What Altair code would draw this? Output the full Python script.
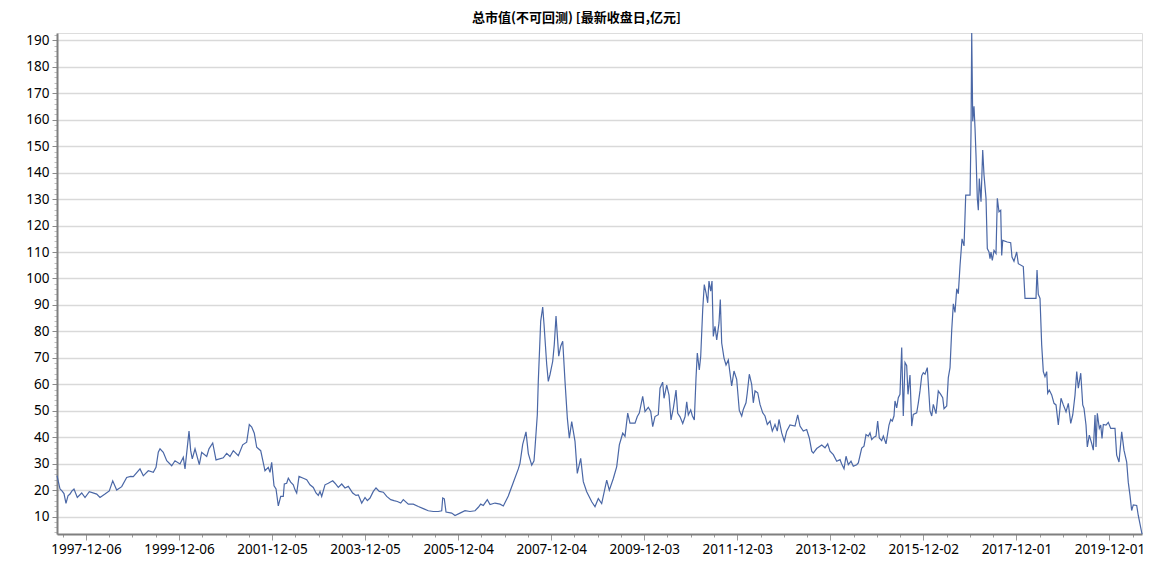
import json
import altair as alt
import pandas as pd

# time as decimal years, values in 亿元
year_frac = [
    1997.307, 1997.372, 1997.414, 1997.457, 1997.500, 1997.543, 1997.586, 1997.629, 1997.672, 1997.743,
    1997.838, 1997.909, 1998.001, 1998.160, 1998.231, 1998.338, 1998.430, 1998.504, 1998.589, 1998.697,
    1998.804, 1998.890, 1998.946, 1999.090, 1999.161, 1999.268, 1999.376, 1999.434, 1999.483, 1999.520,
    1999.590, 1999.664, 1999.771, 1999.842, 1999.949, 2000.020, 2000.057, 2000.143, 2000.179, 2000.213,
    2000.272, 2000.364, 2000.415, 2000.523, 2000.572, 2000.652, 2000.723, 2000.879, 2000.952, 2001.023,
    2001.094, 2001.202, 2001.296, 2001.382, 2001.438, 2001.490, 2001.545, 2001.597, 2001.683, 2001.775,
    2001.846, 2001.883, 2001.919, 2001.969, 2002.012, 2002.061, 2002.113, 2002.168, 2002.190, 2002.241,
    2002.276, 2002.327, 2002.383, 2002.420, 2002.456, 2002.506, 2002.598, 2002.671, 2002.742, 2002.813,
    2002.871, 2002.920, 2002.957, 2002.993, 2003.064, 2003.135, 2003.230, 2003.279, 2003.350, 2003.423,
    2003.494, 2003.565, 2003.659, 2003.730, 2003.780, 2003.853, 2003.924, 2003.973, 2004.031, 2004.102,
    2004.160, 2004.231, 2004.317, 2004.390, 2004.476, 2004.546, 2004.618, 2004.691, 2004.746, 2004.854,
    2004.961, 2005.069, 2005.176, 2005.283, 2005.391, 2005.498, 2005.571, 2005.593, 2005.627, 2005.664,
    2005.786, 2005.857, 2005.964, 2006.072, 2006.179, 2006.287, 2006.358, 2006.409, 2006.465, 2006.551,
    2006.609, 2006.716, 2006.824, 2006.895, 2007.002, 2007.109, 2007.217, 2007.253, 2007.311, 2007.382,
    2007.432, 2007.505, 2007.554, 2007.575, 2007.625, 2007.646, 2007.698, 2007.741, 2007.769, 2007.827,
    2007.861, 2007.898, 2007.956, 2007.990, 2008.027, 2008.085, 2008.128, 2008.171, 2008.220, 2008.270,
    2008.313, 2008.364, 2008.435, 2008.484, 2008.557, 2008.613, 2008.686, 2008.794, 2008.864, 2008.935,
    2009.008, 2009.116, 2009.172, 2009.258, 2009.331, 2009.387, 2009.460, 2009.509, 2009.567, 2009.616,
    2009.724, 2009.773, 2009.816, 2009.889, 2009.939, 2010.009, 2010.061, 2010.104, 2010.153, 2010.224,
    2010.261, 2010.318, 2010.347, 2010.405, 2010.454, 2010.497, 2010.547, 2010.605, 2010.641, 2010.691,
    2010.749, 2010.798, 2010.835, 2010.869, 2010.920, 2010.955, 2010.998, 2011.034, 2011.062, 2011.105,
    2011.135, 2011.178, 2011.212, 2011.249, 2011.285, 2011.313, 2011.350, 2011.378, 2011.406, 2011.442,
    2011.479, 2011.528, 2011.556, 2011.586, 2011.636, 2011.679, 2011.728, 2011.763, 2011.800, 2011.850,
    2011.908, 2011.964, 2012.016, 2012.050, 2012.108, 2012.136, 2012.179, 2012.230, 2012.265, 2012.302,
    2012.360, 2012.409, 2012.467, 2012.516, 2012.566, 2012.624, 2012.673, 2012.731, 2012.780, 2012.817,
    2012.875, 2012.931, 2012.982, 2013.053, 2013.161, 2013.219, 2013.268, 2013.339, 2013.412, 2013.468,
    2013.520, 2013.554, 2013.627, 2013.735, 2013.805, 2013.863, 2013.913, 2013.984, 2014.057, 2014.128,
    2014.164, 2014.214, 2014.257, 2014.306, 2014.364, 2014.413, 2014.486, 2014.521, 2014.594, 2014.643,
    2014.686, 2014.736, 2014.772, 2014.809, 2014.858, 2014.901, 2014.937, 2014.972, 2015.023, 2015.058,
    2015.116, 2015.180, 2015.217, 2015.251, 2015.287, 2015.309, 2015.345, 2015.380, 2015.416, 2015.453,
    2015.487, 2015.524, 2015.560, 2015.588, 2015.631, 2015.668, 2015.702, 2015.775, 2015.810, 2015.846,
    2015.883, 2015.917, 2015.954, 2016.003, 2016.061, 2016.098, 2016.132, 2016.190, 2016.239, 2016.291,
    2016.334, 2016.362, 2016.420, 2016.454, 2016.491, 2016.527, 2016.562, 2016.598, 2016.635, 2016.669,
    2016.706, 2016.749, 2016.792, 2016.828, 2016.921, 2016.942, 2016.957, 2016.979, 2017.006, 2017.028,
    2017.049, 2017.077, 2017.099, 2017.120, 2017.157, 2017.193, 2017.221, 2017.264, 2017.292, 2017.328,
    2017.350, 2017.371, 2017.399, 2017.436, 2017.479, 2017.507, 2017.543, 2017.580, 2017.601, 2017.623,
    2017.721, 2017.794, 2017.822, 2017.865, 2017.923, 2017.958, 2018.065, 2018.102, 2018.338, 2018.360,
    2018.387, 2018.424, 2018.460, 2018.495, 2018.531, 2018.568, 2018.589, 2018.624, 2018.675, 2018.725,
    2018.768, 2018.817, 2018.875, 2018.925, 2018.983, 2019.032, 2019.084, 2019.127, 2019.176, 2019.213,
    2019.247, 2019.299, 2019.342, 2019.369, 2019.412, 2019.440, 2019.483, 2019.535, 2019.569, 2019.606,
    2019.627, 2019.655, 2019.698, 2019.728, 2019.756, 2019.784, 2019.842, 2019.891, 2019.943, 2020.035,
    2020.071, 2020.121, 2020.179, 2020.228, 2020.286, 2020.320, 2020.357, 2020.393, 2020.428, 2020.501,
    2020.535, 2020.615,
]

market_cap = [
    25.5, 20.4, 19.7, 18.7, 15.0, 17.8, 18.5, 19.7, 20.4, 17.2,
    18.9, 17.2, 19.4, 18.5, 17.2, 18.5, 19.7, 23.5, 20.0, 21.3,
    24.8, 25.2, 25.1, 28.0, 25.4, 27.3, 26.7, 28.6, 34.3, 35.6,
    34.3, 31.1, 29.2, 31.1, 29.9, 32.4, 28.0, 42.3, 34.9, 31.8,
    35.6, 29.6, 34.3, 32.7, 35.6, 37.8, 31.4, 32.2, 33.9, 32.7,
    34.9, 33.0, 37.1, 38.1, 44.8, 43.8, 41.5, 36.2, 34.9, 27.3,
    28.6, 26.7, 30.5, 21.6, 20.4, 14.0, 17.6, 17.6, 22.3, 22.6,
    24.5, 23.0, 22.0, 20.1, 18.9, 25.2, 24.5, 23.9, 22.0, 21.0,
    18.9, 18.0, 19.5, 17.6, 22.0, 22.6, 23.5, 22.6, 21.0, 22.3,
    20.8, 21.4, 18.9, 18.0, 18.2, 15.1, 17.2, 16.0, 17.0, 19.5,
    20.8, 19.5, 19.2, 17.6, 16.4, 16.0, 15.7, 15.1, 16.4, 14.7,
    14.7, 13.8, 13.0, 12.2, 11.9, 11.9, 12.2, 17.0, 16.7, 11.7,
    11.3, 10.4, 11.3, 12.2, 11.9, 12.2, 13.5, 14.7, 14.2, 16.4,
    14.5, 15.1, 14.7, 14.0, 17.8, 22.9, 28.0, 30.1, 37.3, 42.0,
    33.8, 29.4, 31.1, 35.8, 48.5, 61.1, 83.9, 89.2, 82.7, 67.5,
    61.1, 63.7, 68.7, 75.1, 85.8, 70.6, 74.4, 76.3, 61.1, 47.2,
    39.6, 45.9, 38.4, 26.3, 32.0, 23.2, 19.4, 15.6, 13.7, 16.8,
    14.9, 23.8, 20.0, 24.4, 28.9, 37.1, 41.5, 40.3, 49.1, 45.3,
    45.3, 47.8, 49.1, 55.4, 49.7, 51.3, 49.7, 44.0, 47.8, 48.5,
    58.5, 60.8, 54.7, 59.7, 55.9, 46.5, 50.9, 57.8, 49.0, 47.7,
    45.2, 47.7, 53.4, 48.4, 50.3, 48.1, 46.5, 62.3, 71.8, 65.4,
    70.5, 88.2, 97.7, 94.6, 90.8, 99.0, 95.2, 99.0, 78.1, 81.9,
    76.8, 83.2, 92.0, 75.6, 69.9, 67.3, 69.2, 64.4, 59.4, 65.0,
    61.9, 50.1, 48.0, 50.5, 53.0, 56.8, 63.8, 60.0, 53.0, 57.5,
    56.8, 52.4, 49.2, 48.0, 44.8, 46.1, 42.3, 44.8, 42.3, 46.7,
    41.6, 38.5, 42.3, 44.6, 44.2, 48.4, 44.2, 42.3, 42.9, 39.7,
    34.7, 34.0, 35.7, 37.0, 36.0, 37.5, 34.7, 33.4, 30.9, 31.5,
    29.9, 28.1, 32.8, 29.6, 30.9, 29.0, 29.6, 30.3, 35.9, 36.6,
    41.0, 40.4, 41.6, 39.1, 40.0, 40.4, 46.1, 39.7, 38.7, 40.4,
    37.5, 44.6, 46.7, 46.1, 48.0, 53.7, 51.1, 54.9, 56.2, 73.9,
    48.0, 68.2, 67.0, 56.2, 63.5, 44.2, 48.6, 49.2, 53.0, 57.5,
    63.2, 64.4, 63.8, 66.3, 49.9, 48.0, 52.4, 48.9, 57.5, 56.2,
    54.9, 50.8, 51.8, 62.5, 66.3, 80.3, 90.4, 87.2, 96.1, 94.2,
    104.9, 115.0, 112.3, 131.5, 131.5, 155.6, 192.8, 159.4, 165.1, 156.8,
    146.7, 130.3, 125.8, 137.8, 129.0, 148.6, 139.1, 130.3, 111.3, 110.0,
    107.5, 110.0, 106.8, 110.6, 109.4, 130.3, 125.2, 125.8, 108.7, 114.4,
    113.8, 113.5, 108.1, 106.5, 110.0, 105.6, 104.5, 92.5, 92.5, 103.2,
    94.0, 92.5, 74.9, 64.8, 62.9, 64.8, 56.6, 57.8, 56.0, 52.8,
    52.2, 44.6, 54.7, 52.2, 49.6, 52.8, 45.2, 48.4, 55.9, 64.8,
    58.5, 64.2, 52.2, 50.9, 44.6, 36.3, 40.8, 37.6, 35.1, 48.4,
    36.3, 49.0, 43.3, 44.6, 39.5, 44.8, 44.6, 45.6, 43.3, 43.3,
    33.2, 30.6, 42.0, 35.1, 30.6, 23.0, 18.0, 12.3, 14.4, 14.2,
    10.4, 3.4,
]

x_tick_labels = [
    "1997-12-06", "1999-12-06", "2001-12-05", "2003-12-05", "2005-12-04", "2007-12-04",
    "2009-12-03", "2011-12-03", "2013-12-02", "2015-12-02", "2017-12-01", "2019-12-01",
]
y_tick_values = list(range(10, 191, 10))
y_minor_values = list(range(4, 193, 2))

title_text = "总市值(不可回测) [最新收盘日,亿元]"


def to_date(t):
    return pd.Timestamp("1970-01-01") + pd.to_timedelta((t - 1970.0) * 365.2425, unit="D")


dates = [to_date(t) for t in year_frac]
df = pd.DataFrame({"date": dates, "value": market_cap})

x_min, x_max = dates[0], dates[-1]

majors = [pd.Timestamp(s) for s in x_tick_labels]
half = pd.Timedelta(hours=182.5 * 24)
ticks = []
for i, m in enumerate(majors):
    if i == 0:
        ticks.append(m - half)
    for k in range(4):
        ticks.append(m + k * half)
ticks = [t for t in ticks if x_min <= t <= x_max]


def dt(ts):
    return alt.DateTime(year=ts.year, month=ts.month, date=ts.day,
                        hours=ts.hour, minutes=ts.minute)


x_vals = [dt(t) for t in ticks]
major_test = "indexof(%s, timeFormat(datum.value, '%%Y-%%m-%%d')) >= 0" % json.dumps(x_tick_labels)
y_major_test = "datum.value %% 10 === 0 && datum.value >= %d && datum.value <= %d" % (
    y_tick_values[0], y_tick_values[-1])

FONT = "Noto Sans"
AXIS_COLOR = "#7f7f7f"

x_axis = alt.Axis(
    title=None,
    values=x_vals,
    labelExpr="(%s) ? timeFormat(datum.value, '%%Y-%%m-%%d') : ''" % major_test,
    grid=False,
    domainColor=AXIS_COLOR,
    domainWidth=2,
    tickColor="#9a9a9a",
    tickWidth=1,
    tickSize={"condition": {"test": major_test, "value": 6}, "value": 3},
    labelFont=FONT,
    labelFontSize=13.5,
    labelColor="#000000",
    labelPadding=2,
    labelFlush=False,
    labelOverlap=False,
)

y_axis = alt.Axis(
    title=None,
    values=y_minor_values,
    labelExpr="(%s) ? datum.label : ''" % y_major_test,
    format="d",
    grid=True,
    gridColor="#d9d9d9",
    gridWidth=1.5,
    gridOpacity={"condition": {"test": y_major_test, "value": 1}, "value": 0},
    domainColor=AXIS_COLOR,
    domainWidth=2,
    tickColor={"condition": {"test": y_major_test, "value": "#8a8a8a"}, "value": "#c0c0c0"},
    tickWidth=1,
    tickSize={"condition": {"test": y_major_test, "value": 5}, "value": 3},
    labelFont=FONT,
    labelFontSize=13.5,
    labelColor="#000000",
    labelPadding=3,
    labelOverlap=False,
)

chart = (
    alt.Chart(df)
    .mark_line(color="#4a67a6", strokeWidth=1.2, interpolate="linear")
    .encode(
        x=alt.X("date:T", axis=x_axis, scale=alt.Scale(nice=False, domain=[dt(x_min), dt(x_max)])),
        y=alt.Y("value:Q", axis=y_axis, scale=alt.Scale(domain=[3.4, 192.8], nice=False, zero=False)),
    )
    .properties(
        width=1085,
        height=501,
        title=alt.TitleParams(title_text, font="Noto Sans CJK SC", fontSize=13,
                              fontWeight="bold", color="#000000", anchor="middle",
                              offset=3, dx=-23),
        autosize=alt.AutoSizeParams(type="none"),
        padding={"left": 49, "top": 25, "right": 5, "bottom": 22},
    )
    .configure_view(stroke=None)
    .configure(background="#ffffff")
)

chart.save("out.html", embed_options={"renderer": "svg", "actions": False})
